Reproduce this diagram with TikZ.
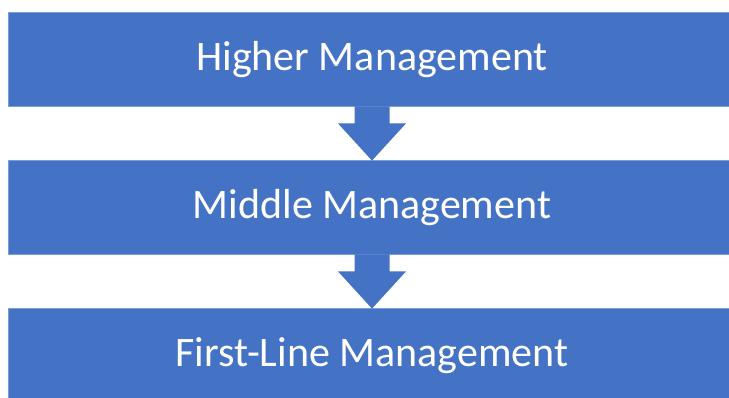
\documentclass[tikz,border=0pt]{standalone}
\usepackage{fontspec}
\setmainfont{Carlito}
\usepackage{tikz}
\usetikzlibrary{calc}
\definecolor{officeblue}{HTML}{4472C4}

\begin{document}
\begin{tikzpicture}[x=1pt,y=-1pt,
  level/.style={fill=officeblue,draw=officeblue!70!white,line width=0.8pt,text=white,
    minimum width=728pt,minimum height=94pt,inner sep=0pt,
    text height=32pt,text depth=10pt,
    font=\fontsize{42}{48}\selectfont},
  downarrow/.style={fill=officeblue}]
\useasboundingbox (0,0) rectangle (729,397);
\node[level] (higher) at (372,59) {Higher Management};
\node[level] (middle) at (372,207) {Middle Management};
\node[level] (firstline) at (372,355) {First-Line Management};
% block arrows between the levels
\fill[downarrow] ($(higher.south)+(-17.5,0)$) -- ($(higher.south)+(-17.5,17)$)
  -- ($(higher.south)+(-34,17)$) -- ($(middle.north)+(0,1)$)
  -- ($(higher.south)+(34,17)$) -- ($(higher.south)+(17.5,17)$)
  -- ($(higher.south)+(17.5,0)$) -- cycle;
\fill[downarrow] ($(middle.south)+(-17.5,0)$) -- ($(middle.south)+(-17.5,17)$)
  -- ($(middle.south)+(-34,17)$) -- ($(firstline.north)+(0,1)$)
  -- ($(middle.south)+(34,17)$) -- ($(middle.south)+(17.5,17)$)
  -- ($(middle.south)+(17.5,0)$) -- cycle;
\end{tikzpicture}
\end{document}
